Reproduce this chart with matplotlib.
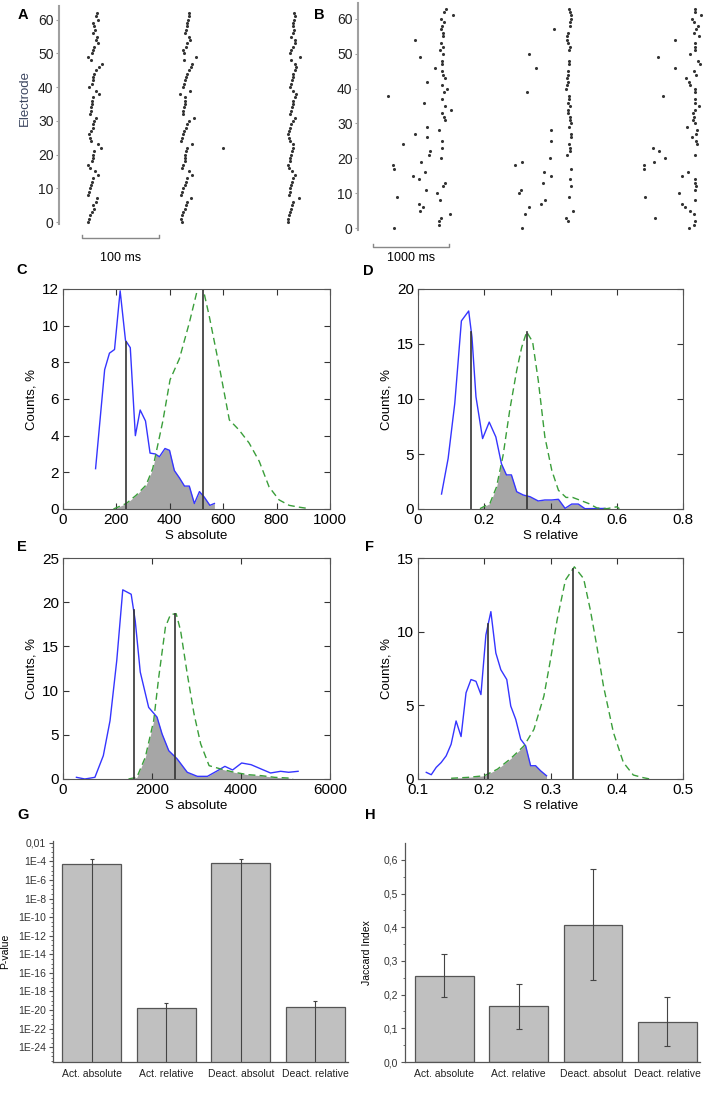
import numpy as np
import matplotlib
matplotlib.use('Agg')
import matplotlib.pyplot as plt
from matplotlib.ticker import FixedLocator, NullFormatter

plt.rcParams['font.family'] = ['Liberation Sans', 'DejaVu Sans']

nan = np.nan

# ---- A: spike times (ms) per electrode 0..62, three bursts ----
A_burst1 = [38, 39.5, 40.5, 42.5, 45.5, 44.5, 47.5, 49, 38, 39.5,
            40.5, 41, 42.5, 44.5, 50, 47, 40.5, 37, 42.5, 43.5,
            44, 45.5, 54.5, 51, 41, 40.5, 39.5, 41, 43.5, 44.5,
            46, 47.5, 40.5, 41, 41.5, 42.5, 43, 44, 52.5, 47.5,
            39, 42.5, 44, 44.5, 46, 48, 52.5, 55.5, 41, 37,
            43, 44.5, 46, 50, 47.5, 49, 43.5, 47, 46, 44.5,
            50, 48, 49]
A_burst2 = [159.5, 158.5, 159.5, 161.5, 163.5, 165, 166, 171.5, 158, 160,
            161.5, 163.5, 165, 166.5, 173, 168, 159.5, 161.5, 163, 163.5,
            164, 165, 166, 172.5, 158.5, 159.5, 160.5, 162.5, 164.5, 166.5,
            168, 175.5, 160.5, 161.5, 162.5, 163, 164, 163.5, 156.5, 170,
            161.5, 162.5, 163.5, 165, 166.5, 168, 171, 172.5, 162.5, 177.5,
            162.5, 160.5, 165, 166.5, 169.5, 168, 163.5, 164.5, 166, 166.5,
            167, 168, 168]
A_burst3 = [296.5, 297, 298, 299.5, 301, 302, 303.5, 311, 298.5, 299.5,
            300, 301, 302, 303.5, 306.5, 302.5, 298.5, 296.5, 299.5, 300,
            301, 302, 303, 303.5, 300, 298.5, 296.5, 298.5, 299.5, 301,
            303, 305.5, 299.5, 301, 302, 303, 303.5, 305.5, 307, 303.5,
            300, 301, 302, 303, 303.5, 305.5, 308, 306, 301, 312,
            300, 301, 303.5, 305.5, 306, 301, 303.5, 304.5, 303, 303.5,
            304.5, 305.5, 304.5]
A_extra_t, A_extra_e = [213], [22]

# ---- B: spike times (ms) per electrode 0..63 ----
B_burst1 = [480, 1070, 1070, 1095, 1210, 815, 850, 805, 1080, 510,
            1045, 895, 1115, 1140, 800, 730, 885, 475, 455, 825,
            1090, 930, 945, 1105, 590, 1105, 905, 745, 1070, 910,
            nan, 1140, 1130, 1105, 1220, 1150, 870, 1105, 395, 1130,
            1165, 1105, 905, 1140, 1115, 1105, 1010, 1105, 1105, 815,
            1125, 1080, 1115, 1090, 755, 1125, 1115, 1090, 1105, 1130,
            1090, 1255, 1130, 1160]
B_burst2 = [2160, nan, 2770, 2735, 2200, 2825, 2255, 2410, 2465, 2780,
            2125, 2140, 2800, 2430, 2790, 2545, 2445, 2800, 2070, 2160,
            2525, 2755, 2790, 2790, 2780, 2535, 2805, 2800, 2545, 2780,
            2805, 2790, 2790, 2770, 2770, 2790, 2770, 2780, 2780, 2230,
            2735, 2745, 2765, 2755, 2765, 2770, 2340, 2780, 2780, nan,
            2255, 2780, 2790, 2770, 2745, 2755, 2765, 2580, 2790, 2790,
            2800, 2805, 2790, 2780]
B_burst3 = [4360, 4420, 4430, 3905, 4420, 4370, 4300, 4270, 4430, 3780,
            4230, 4430, 4455, 4440, 4430, 4265, 4350, 3770, 3770, 3895,
            4045, 4430, 3965, 3885, 4465, 4455, 4395, 4445, 4465, 4335,
            4440, 4405, 4420, 4405, 4430, 4490, 4430, 4440, 4020, 4440,
            4430, 4375, 4360, 4315, 4455, 4420, 4170, 4500, 4475, 3945,
            4370, 4440, 4430, 4440, 4170, 4490, 4420, 4455, 4475, 4420,
            4395, 4515, 4440, 4440]

# ---- C: S absolute (activation) ----
C_blue_x = [122, 156, 174, 193, 214, 234, 252, 271, 289, 309, 326, 346,
            361, 382, 399, 417, 436, 455, 473, 492, 511, 529, 550, 567]
C_blue_y = [2.2, 7.6, 8.5, 8.7, 11.9, 9.2, 8.8, 4.0, 5.4, 4.8, 3.05, 3.0,
            2.85, 3.3, 3.2, 2.1, 1.7, 1.25, 1.25, 0.3, 0.95, 0.65, 0.2, 0.3]
C_green_x = [189, 237, 274, 311, 336, 355, 374, 401, 436, 473, 504, 525,
             548, 585, 623, 660, 697, 735, 772, 809, 847, 884, 922]
C_green_y = [0, 0.3, 0.75, 1.3, 2.2, 3.5, 4.8, 7.05, 8.2, 10.15, 12.0, 12.0,
             10.5, 7.8, 4.86, 4.3, 3.6, 2.6, 1.2, 0.5, 0.2, 0.1, 0.02]
C_lines = [237, 523]

# ---- D: S relative (activation) ----
D_blue_x = [0.071, 0.091, 0.111, 0.131, 0.153, 0.163, 0.175, 0.195, 0.215,
            0.235, 0.252, 0.267, 0.282, 0.298, 0.318, 0.338, 0.363, 0.383,
            0.404, 0.424, 0.444, 0.464, 0.484, 0.504, 0.565]
D_blue_y = [1.36, 4.6, 9.6, 17.1, 18.0, 15.6, 10.2, 6.4, 7.9,
            6.55, 4.1, 3.1, 3.1, 1.57, 1.27, 1.12, 0.73, 0.82,
            0.82, 0.88, 0.06, 0.45, 0.45, 0.03, 0.05]
D_green_x = [0.187, 0.217, 0.237, 0.257, 0.277, 0.298, 0.313, 0.328, 0.346,
             0.363, 0.383, 0.404, 0.424, 0.447, 0.467, 0.489, 0.515, 0.54,
             0.57, 0.6, 0.608]
D_green_y = [0.03, 0.5, 2.0, 4.9, 9.0, 12.6, 14.7, 16.1, 15.2,
             11.7, 6.55, 3.5, 1.7, 1.05, 1.05, 0.8, 0.5, 0.1,
             0.03, 0.2, 0.03]
D_lines = [0.161, 0.328]

# ---- E: S absolute (deactivation) ----
E_blue_x = [302, 490, 717, 906, 1057, 1208, 1343, 1532, 1623, 1736, 1925,
            2113, 2226, 2377, 2566, 2792, 3019, 3245, 3472, 3638, 3811,
            4015, 4226, 4453, 4664, 4891, 5072, 5283]
E_blue_y = [0.19, 0, 0.19, 2.64, 6.6, 13.4, 21.4, 20.9, 17.9, 12.1, 8.1,
            7.0, 5.1, 3.2, 2.27, 0.76, 0.3, 0.3, 0.94, 1.43, 1.02,
            1.81, 1.62, 1.13, 0.68, 0.87, 0.76, 0.87]
E_green_x = [1472, 1660, 1849, 2038, 2151, 2302, 2415, 2543, 2642, 2792,
             2943, 3094, 3283, 3547, 3849, 4151, 4453, 4755, 5057, 5170]
E_green_y = [0, 0.19, 2.45, 6.6, 11.5, 17.2, 18.6, 18.7, 16.8, 11.9,
             7.4, 3.97, 1.51, 1.13, 0.76, 0.49, 0.38, 0.19, 0.11, 0]
E_lines = [1585, 2513]

# ---- F: S relative (deactivation) ----
F_blue_x = [0.1125, 0.12, 0.1275, 0.135, 0.1425, 0.15, 0.1575, 0.165, 0.1725,
            0.18, 0.1875, 0.195, 0.2025, 0.21, 0.2175, 0.225, 0.234, 0.24,
            0.2475, 0.255, 0.2625, 0.27, 0.2775, 0.285, 0.294]
F_blue_y = [0.45, 0.29, 0.79, 1.12, 1.57, 2.36, 3.94, 2.88, 5.85,
            6.75, 6.63, 5.73, 9.78, 11.36, 8.55, 7.42, 6.75, 4.95,
            4.05, 2.7, 2.25, 0.9, 0.9, 0.56, 0.22]
F_green_x = [0.15, 0.175, 0.2, 0.22, 0.24, 0.26, 0.275, 0.29, 0.3, 0.31,
             0.3225, 0.336, 0.35, 0.36, 0.37, 0.38, 0.395, 0.41, 0.425,
             0.44, 0.45]
F_green_y = [0.05, 0.11, 0.22, 0.67, 1.39, 2.25, 3.37, 5.62, 8.1, 10.8,
             13.5, 14.4, 13.6, 11.5, 9.0, 6.3, 3.15, 1.12, 0.27,
             0.09, 0]
F_lines = [0.206, 0.334]

# ---- G / H ----
categories = ['Act. absolute', 'Act. relative', 'Deact. absolut', 'Deact. relative']
G_vals = np.array([4.8e-5, 1.5e-20, 6e-5, 2.2e-20])
G_err = np.array([1.2e-4, 4e-20, 1.4e-4, 8e-20])
G_ticks = [1e-2, 1e-4, 1e-6, 1e-8, 1e-10, 1e-12, 1e-14, 1e-16,
           1e-18, 1e-20, 1e-22, 1e-24]
G_ticklabels = ['0,01', '1E-4', '1E-6', '1E-8', '1E-10', '1E-12', '1E-14',
                '1E-16', '1E-18', '1E-20', '1E-22', '1E-24']
H_vals = [0.256, 0.165, 0.408, 0.12]
H_err = [0.064, 0.066, 0.166, 0.073]

W, H = 709, 1103
fig = plt.figure(figsize=(W / 100, H / 100), dpi=100)


def box(l, t, r, b):
    return fig.add_axes([l / W, 1 - b / H, (r - l) / W, (b - t) / H])


def letter(x, y, s):
    fig.text(x / W, 1 - y / H, s, fontsize=10.5, fontweight='bold',
             ha='center', va='center')


def raster(ax, bursts, xmax, ylim, bar_x, bar_len, bar_y, text_y, label):
    for b in bursts:
        ax.scatter(b, np.arange(len(b)), s=5, c='#333333', linewidths=0)
    ax.set_xlim(0, xmax)
    ax.set_ylim(*ylim)
    for s in ['top', 'right', 'bottom']:
        ax.spines[s].set_visible(False)
    ax.spines['left'].set_color('#a0a0a0')
    ax.spines['left'].set_linewidth(1.5)
    ax.set_xticks([])
    ax.set_yticks(range(0, 61, 10))
    ax.tick_params(axis='y', length=2, color='#a0a0a0', labelsize=10,
                   labelcolor='#222222', pad=2)
    ax.patch.set_alpha(0)
    x0, x1 = bar_x, bar_x + bar_len
    ax.plot([x0, x0, x1, x1], [bar_y + 0.8, bar_y, bar_y, bar_y + 0.8],
            color='#888888', lw=1, clip_on=False)
    ax.text((x0 + x1) / 2, text_y, label, ha='center', va='center',
            fontsize=9)


def hist_panel(ax, bx, by, gx, gy, lines, xlim, ylim, xticks, xlabels,
               yticks, xlabel):
    lo, hi = max(bx[0], gx[0]), min(bx[-1], gx[-1])
    grid = np.linspace(lo, hi, 600)
    overlap = np.minimum(np.interp(grid, bx, by), np.interp(grid, gx, gy))
    ax.fill_between(grid, 0, overlap, color='#a6a6a6', lw=0)
    ax.plot(bx, by, color='#3535ff', lw=1)
    ax.plot(gx, gy, color='#3a9e3a', lw=1, dashes=(5, 3))
    for pos, cx, cy in zip(lines, (bx, gx), (by, gy)):
        ax.plot([pos, pos], [0, np.interp(pos, cx, cy)], color='#333333', lw=1.2)
    ax.set_xlim(*xlim)
    ax.set_ylim(*ylim)
    ax.set_xticks(xticks)
    ax.set_xticklabels(xlabels)
    ax.set_yticks(yticks)
    ax.tick_params(direction='in', top=True, right=True, length=4,
                   labelsize=11, pad=3, color='#333333')
    for s in ax.spines.values():
        s.set_color('#555555')
    ax.set_xlabel(xlabel, fontsize=9.5, labelpad=2)
    ax.set_ylabel('Counts, %', fontsize=9.5, labelpad=3)


# A
axA = box(59, 5.6, 345, 223.7)
raster(axA, [A_burst1, A_burst2, A_burst3], 371, (-0.5, 64.2),
       30, 100, -4.75, -10.7, '100 ms')
axA.scatter(A_extra_t, A_extra_e, s=5, c='#333333', linewidths=0)
fig.text(25 / W, 1 - 98 / H, 'Electrode', rotation=90, fontsize=9.5,
         color='#3c4660', ha='center', va='center')

# B
axB = box(358, 3.3, 709, 230.1)
raster(axB, [B_burst1, B_burst2, B_burst3], 4620, (-0.6, 64.5),
       193, 1000, -5.45, -8.6, '1000 ms')

# C-F
axC = box(63, 289, 330, 509)
hist_panel(axC, C_blue_x, C_blue_y, C_green_x, C_green_y, C_lines,
           (0, 1000), (0, 12), range(0, 1001, 200),
           ['0', '200', '400', '600', '800', '1000'], range(0, 13, 2), 'S absolute')
axD = box(418, 289, 683, 509)
hist_panel(axD, D_blue_x, D_blue_y, D_green_x, D_green_y, D_lines,
           (0, 0.8), (0, 20), [0, 0.2, 0.4, 0.6, 0.8],
           ['0', '0.2', '0.4', '0.6', '0.8'], range(0, 21, 5), 'S relative')
axE = box(63, 558, 330, 779)
hist_panel(axE, E_blue_x, E_blue_y, E_green_x, E_green_y, E_lines,
           (0, 6000), (0, 25), [0, 2000, 4000, 6000],
           ['0', '2000', '4000', '6000'], range(0, 26, 5), 'S absolute')
axF = box(418, 558, 683, 779)
hist_panel(axF, F_blue_x, F_blue_y, F_green_x, F_green_y, F_lines,
           (0.1, 0.5), (0, 15), [0.1, 0.2, 0.3, 0.4, 0.5],
           ['0.1', '0.2', '0.3', '0.4', '0.5'], range(0, 16, 5), 'S relative')


def origin_style(ax):
    for s in ['top', 'right']:
        ax.spines[s].set_visible(False)
    for s in ['left', 'bottom']:
        ax.spines[s].set_color('#555555')
        ax.spines[s].set_linewidth(0.9)
    ax.tick_params(axis='y', which='major', length=3, color='#555555',
                   labelsize=7.5, labelcolor='#333333', pad=2)
    ax.tick_params(axis='y', which='minor', length=1.5, color='#555555')
    ax.tick_params(axis='x', length=0, labelsize=7.5, labelcolor='#222222', pad=5)


xs = np.arange(len(categories))

# G
axG = box(53, 841, 348, 1062)
g_bottom, g_top = 10 ** -25.6, 10 ** -1.8
axG.set_yscale('log')
axG.bar(xs, G_vals, width=0.79, bottom=1e-30, color='#c0c0c0',
        edgecolor='#555555', lw=0.9)
g_hi = G_vals + G_err
g_lo = np.where(G_vals - G_err > g_bottom, G_vals - G_err, g_bottom)
axG.vlines(xs, g_lo, g_hi, color='#444444', lw=0.8)
axG.scatter(xs, g_hi, marker='_', s=12, c='#444444', linewidths=0.8)
axG.set_ylim(g_bottom, g_top)
axG.set_xlim(-0.52, 3.44)
axG.yaxis.set_major_locator(FixedLocator(G_ticks))
axG.set_yticklabels(G_ticklabels)
axG.yaxis.set_minor_locator(FixedLocator(
    [10 ** (-k / 2) for k in range(5, 52) if k % 4 != 0]))
axG.yaxis.set_minor_formatter(NullFormatter())
axG.set_xticks(xs)
axG.set_xticklabels(categories)
origin_style(axG)
axG.set_ylabel('P-value', fontsize=7.5)
axG.yaxis.set_label_coords(-0.145, 0.5)

# H
axH = box(405, 843, 700, 1062)
axH.bar(xs, H_vals, width=0.79, color='#c0c0c0', edgecolor='#555555', lw=0.9,
        yerr=H_err, capsize=2,
        error_kw=dict(ecolor='#444444', elinewidth=0.8, capthick=0.8))
axH.set_ylim(0, 0.65)
axH.set_xlim(-0.53, 3.44)
h_ticks = [0, 0.1, 0.2, 0.3, 0.4, 0.5, 0.6]
axH.set_yticks(h_ticks)
axH.set_yticklabels([f'{v:.1f}'.replace('.', ',') for v in h_ticks])
axH.yaxis.set_minor_locator(FixedLocator([0.05, 0.15, 0.25, 0.35, 0.45, 0.55]))
axH.set_xticks(xs)
axH.set_xticklabels(categories)
origin_style(axH)
axH.set_ylabel('Jaccard Index', fontsize=7.5)
axH.yaxis.set_label_coords(-0.112, 0.5)

for x, y, s in [(23, 15, 'A'), (319, 15, 'B'), (22, 270, 'C'), (368, 271, 'D'),
                (22, 547, 'E'), (369, 547, 'F'), (23, 815, 'G'), (370, 815, 'H')]:
    letter(x, y, s)

fig.savefig('out.png', dpi=100)
